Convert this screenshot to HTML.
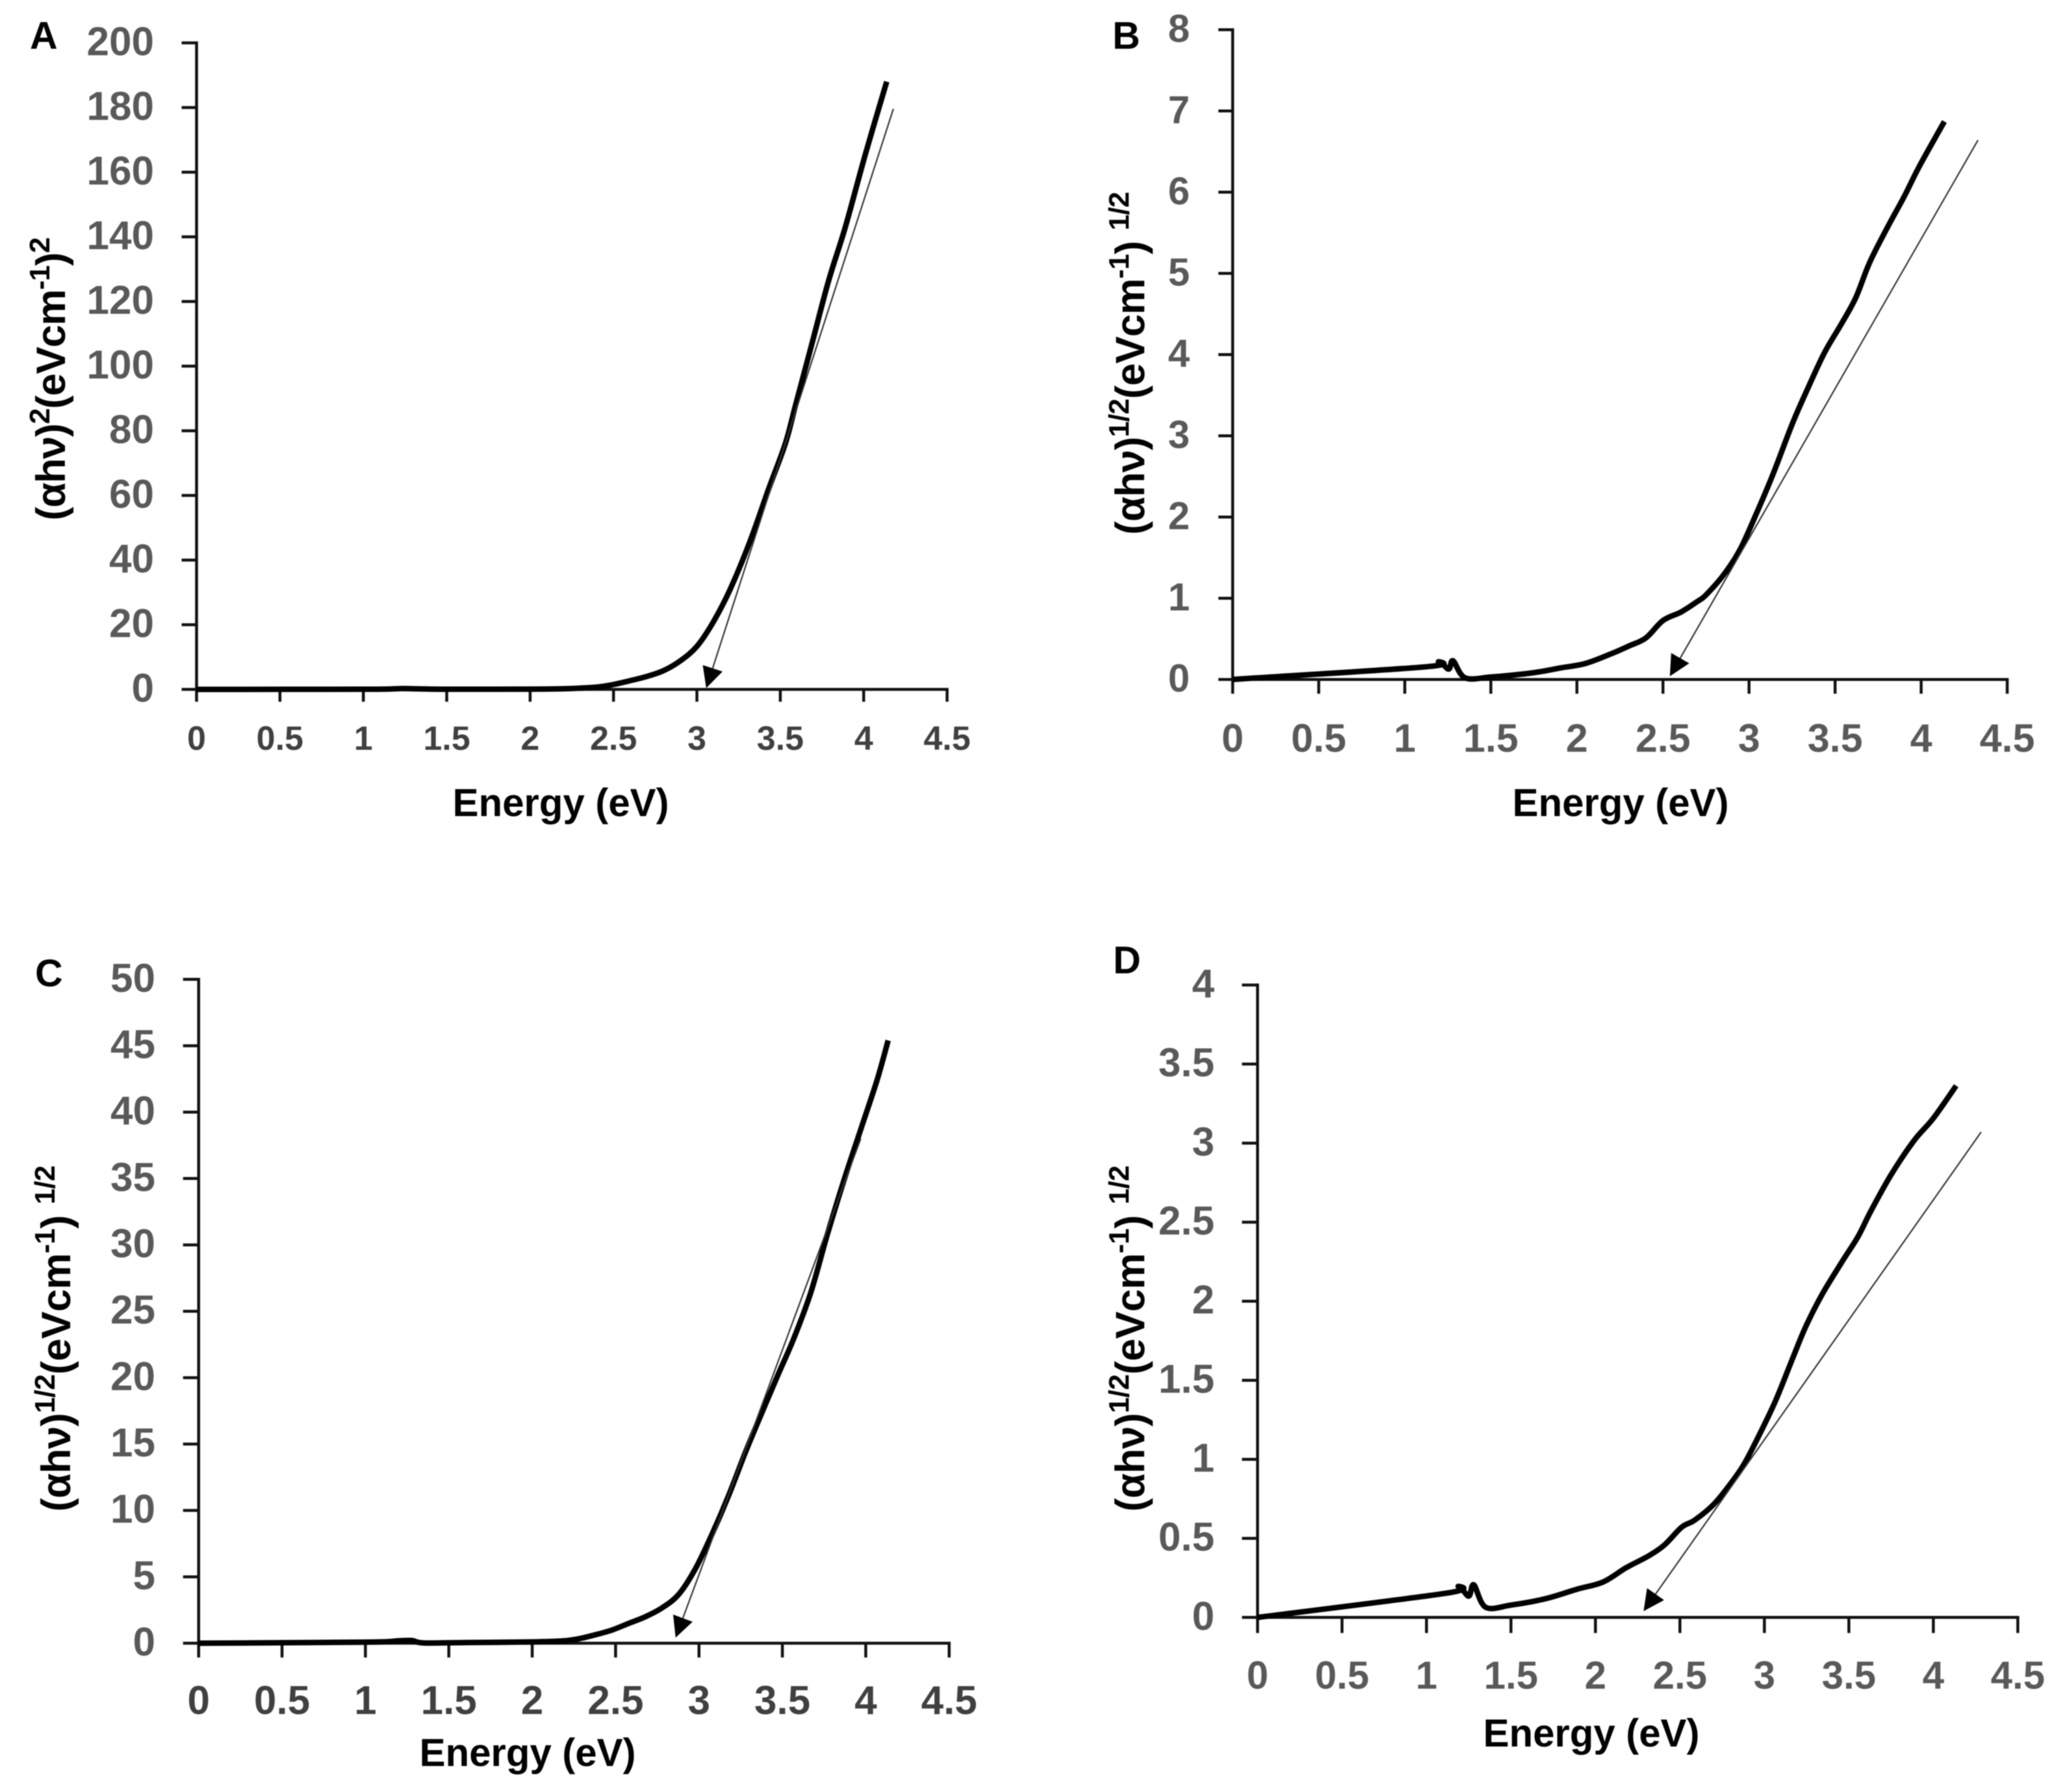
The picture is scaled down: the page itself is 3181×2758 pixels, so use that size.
<!DOCTYPE html>
<html lang="en">
<head>
<meta charset="utf-8">
<title>Tauc plots A-D</title>
<style>
html,body{margin:0;padding:0;background:#fff;width:3181px;height:2758px;overflow:hidden}
svg{display:block;filter:blur(0.8px)}
text{font-family:"Liberation Sans",sans-serif;font-weight:700}
.letter{font-size:59px;fill:#000}
.title{font-size:60px;fill:#000;text-anchor:middle}
.ytitle{font-size:63px;fill:#000;text-anchor:middle}
</style>
</head>
<body>
<svg id="figure" width="3181" height="2758" viewBox="0 0 3181 2758" xmlns="http://www.w3.org/2000/svg">
  <g id="panel-a">
    <text class="letter" x="46" y="75">A</text>
    <text class="title" x="863" y="1256" textLength="333">Energy (eV)</text>
    <text class="ytitle" transform="translate(100,583) rotate(-90)" textLength="436">(αhν)<tspan font-size="44" dy="-24">2</tspan><tspan dy="24">(eVcm</tspan><tspan font-size="44" dy="-24">-1</tspan><tspan dy="24">)</tspan><tspan font-size="44" dy="-24">2</tspan></text>
  </g>
  <g id="panel-b">
    <text class="letter" x="1712" y="75">B</text>
    <text class="title" x="2494" y="1256" textLength="333">Energy (eV)</text>
    <text class="ytitle" transform="translate(1761,559) rotate(-90)" textLength="528">(αhν)<tspan font-size="44" dy="-24">1/2</tspan><tspan dy="24">(eVcm</tspan><tspan font-size="44" dy="-24">-1</tspan><tspan dy="24">) </tspan><tspan font-size="44" dy="-24">1/2</tspan></text>
  </g>
  <g id="panel-c">
    <text class="letter" x="54" y="1518">C</text>
    <text class="title" x="812" y="2718" textLength="333">Energy (eV)</text>
    <text class="ytitle" transform="translate(108,2060) rotate(-90)" textLength="533">(αhν)<tspan font-size="44" dy="-24">1/2</tspan><tspan dy="24">(eVcm</tspan><tspan font-size="44" dy="-24">-1</tspan><tspan dy="24">) </tspan><tspan font-size="44" dy="-24">1/2</tspan></text>
  </g>
  <g id="panel-d">
    <text class="letter" x="1713" y="1498">D</text>
    <text class="title" x="2449" y="2688" textLength="333">Energy (eV)</text>
    <text class="ytitle" transform="translate(1761,2060) rotate(-90)" textLength="533">(αhν)<tspan font-size="44" dy="-24">1/2</tspan><tspan dy="24">(eVcm</tspan><tspan font-size="44" dy="-24">-1</tspan><tspan dy="24">) </tspan><tspan font-size="44" dy="-24">1/2</tspan></text>
  </g>
</svg>
<script>
// Shared x axis
const xTickValues = [0, 0.5, 1, 1.5, 2, 2.5, 3, 3.5, 4, 4.5];
const xTickLabels = ['0', '0.5', '1', '1.5', '2', '2.5', '3', '3.5', '4', '4.5'];

// Panel A
const aYTickValues = [0, 20, 40, 60, 80, 100, 120, 140, 160, 180, 200];
const aYTickLabels = ['0', '20', '40', '60', '80', '100', '120', '140', '160', '180', '200'];
const aEnergy = [0, 1, 1.2, 1.25, 1.5, 2, 2.2, 2.4, 2.5, 2.6, 2.7, 2.8, 2.9, 3, 3.1, 3.2, 3.32, 3.43, 3.53, 3.59, 3.69, 3.79, 3.89, 4.01, 4.138];
const aValues = [0, 0.05, 0.2, 0.25, 0.05, 0.08, 0.2, 0.7, 1.5, 2.7, 4, 5.8, 8.8, 13.3, 21, 31, 46, 62, 76, 87.6, 107, 126.5, 143, 165.5, 188];
const aTangentEnergy = [4.178, 3.056];
const aTangentValues = [179.6, 0.4];

// Panel B
const bYTickValues = [0, 1, 2, 3, 4, 5, 6, 7, 8];
const bYTickLabels = ['0', '1', '2', '3', '4', '5', '6', '7', '8'];
const bEnergy = [0, 1.12, 1.198, 1.255, 1.28, 1.35, 1.5, 1.7, 1.8, 1.9, 2.05, 2.2, 2.3, 2.4, 2.5, 2.605, 2.7, 2.75, 2.853, 2.948, 3.04, 3.138, 3.252, 3.347, 3.44, 3.54, 3.62, 3.7, 3.8, 3.9, 3.99, 4.135];
const bValues = [0, 0.155, 0.218, 0.127, 0.23, 0.02, 0.03, 0.07, 0.1, 0.14, 0.197, 0.317, 0.41, 0.51, 0.725, 0.83, 0.96, 1.04, 1.29, 1.6, 2.03, 2.52, 3.15, 3.61, 4.03, 4.39, 4.7, 5.13, 5.55, 5.94, 6.32, 6.87];
const bTangentEnergy = [4.33, 2.54];
const bTangentValues = [6.64, 0.04];

// Panel C
const cYTickValues = [0, 5, 10, 15, 20, 25, 30, 35, 40, 45, 50];
const cYTickLabels = ['0', '5', '10', '15', '20', '25', '30', '35', '40', '45', '50'];
const cEnergy = [0, 1, 1.2, 1.28, 1.35, 1.6, 2, 2.18, 2.28, 2.38, 2.48, 2.58, 2.68, 2.78, 2.88, 2.978, 3.078, 3.177, 3.276, 3.375, 3.475, 3.57, 3.67, 3.77, 3.87, 3.97, 4.07, 4.134];
const cValues = [0, 0.08, 0.18, 0.2, 0.02, 0.05, 0.1, 0.17, 0.34, 0.64, 1, 1.5, 2, 2.67, 3.7, 5.6, 8.2, 11.1, 14.3, 17.3, 20.25, 23, 26.4, 30.8, 34.9, 38.7, 42.5, 45.4];
const cTangentEnergy = [3.97, 2.86];
const cTangentValues = [38, 0.42];

// Panel D
const dYTickValues = [0, 0.5, 1, 1.5, 2, 2.5, 3, 3.5, 4];
const dYTickLabels = ['0', '0.5', '1', '1.5', '2', '2.5', '3', '3.5', '4'];
const dEnergy = [0, 1.115, 1.19, 1.25, 1.28, 1.35, 1.5, 1.7, 1.89, 2.045, 2.18, 2.316, 2.41, 2.51, 2.587, 2.7, 2.8, 2.88, 2.975, 3.07, 3.17, 3.245, 3.34, 3.46, 3.555, 3.63, 3.75, 3.885, 4, 4.135];
const dValues = [0, 0.153, 0.196, 0.135, 0.206, 0.064, 0.078, 0.117, 0.178, 0.224, 0.313, 0.39, 0.46, 0.57, 0.615, 0.715, 0.846, 0.97, 1.166, 1.38, 1.646, 1.84, 2.04, 2.25, 2.41, 2.57, 2.8, 3.015, 3.157, 3.363];
const dTangentEnergy = [4.283, 2.285];
const dTangentValues = [3.07, 0.04];

const SVG_NS = 'http://www.w3.org/2000/svg';

function shape(kind, parent, attrs) {
  const el = document.createElementNS(SVG_NS, kind);
  for (const key in attrs) el.setAttribute(key, attrs[key]);
  parent.appendChild(el);
  return el;
}

function smoothPath(pts) {
  let d = 'M' + pts[0][0].toFixed(1) + ' ' + pts[0][1].toFixed(1);
  for (let i = 0; i < pts.length - 1; i++) {
    const a = pts[Math.max(i - 1, 0)];
    const b = pts[i];
    const c = pts[i + 1];
    const e = pts[Math.min(i + 2, pts.length - 1)];
    const c1x = b[0] + (c[0] - a[0]) / 6;
    const c1y = b[1] + (c[1] - a[1]) / 6;
    const c2x = c[0] - (e[0] - b[0]) / 6;
    const c2y = c[1] - (e[1] - b[1]) / 6;
    d += 'C' + c1x.toFixed(1) + ' ' + c1y.toFixed(1) + ' ' + c2x.toFixed(1) + ' ' + c2y.toFixed(1) + ' ' + c[0].toFixed(1) + ' ' + c[1].toFixed(1);
  }
  return d;
}

function drawPanel(p) {
  const group = document.getElementById(p.id);
  const xAt = v => p.x0 + (v / p.xMax) * (p.x1 - p.x0);
  const yAt = v => p.y0 - (v / p.yMax) * (p.y0 - p.y1);

  const yAxisLine = shape('line', group, {x1: p.x0, y1: p.y0, x2: p.x0, y2: p.y1, stroke: '#111', 'stroke-width': 4.5, 'stroke-linecap': 'square'});
  
  

  const xAxisLine = shape('line', group, {x1: p.x0, y1: p.y0, x2: p.x1, y2: p.y0, stroke: '#111', 'stroke-width': 4.5, 'stroke-linecap': 'square'});
  
  

  p.yTicks.forEach((value, i) => {
    const y = yAt(value);
    const tick = shape('line', group, {x1: p.x0 - p.yTickLen, y1: y, x2: p.x0, y2: y, stroke: '#111', 'stroke-width': 4.5});
    
    
    const label = shape('text', group, {x: p.yLabelRight, y: y + 19, 'text-anchor': 'end', 'font-size': p.yFont, fill: '#595959'});
    
    
    label.textContent = p.yLabels[i];
  });

  xTickValues.forEach((value, i) => {
    const x = xAt(value);
    const tick = shape('line', group, {x1: x, y1: p.y0, x2: x, y2: p.y0 + p.xTickLen, stroke: '#111', 'stroke-width': 4.5});
    
    
    const label = shape('text', group, {x: x, y: p.xLabelBase, 'text-anchor': 'middle', 'font-size': p.xFont, fill: p.xColor});
    
    
    label.textContent = xTickLabels[i];
  });

  const pts = p.energy.map((e, i) => [xAt(e), yAt(p.values[i])]);
  const curve = shape('path', group, {d: smoothPath(pts), fill: 'none', stroke: '#000', 'stroke-width': 8.5, 'stroke-linejoin': 'round', 'stroke-linecap': 'butt'});
  
  

  const sx = xAt(p.tangentEnergy[0]);
  const sy = yAt(p.tangentValues[0]);
  const tx = xAt(p.tangentEnergy[1]);
  const ty = yAt(p.tangentValues[1]);
  const len = Math.hypot(tx - sx, ty - sy);
  const ux = (tx - sx) / len;
  const uy = (ty - sy) / len;
  const bx = tx - ux * 32;
  const by = ty - uy * 32;
  const tangent = shape('line', group, {x1: sx, y1: sy, x2: bx, y2: by, stroke: '#333', 'stroke-width': 2.2});
  
  

  const head = [tx + ',' + ty, (bx - uy * 16) + ',' + (by + ux * 16), (bx + uy * 16) + ',' + (by - ux * 16)].join(' ');
  const arrow = shape('polygon', group, {points: head, fill: '#000'});
  
  
}

drawPanel({id: 'panel-a', x0: 302.5, x1: 1457.5, y0: 1061, y1: 66, xMax: 4.5, yMax: 200, yTicks: aYTickValues, yLabels: aYTickLabels, energy: aEnergy, values: aValues, tangentEnergy: aTangentEnergy, tangentValues: aTangentValues, yTickLen: 23, xTickLen: 19, yLabelRight: 237, yFont: 62, xFont: 52, xColor: '#404040', xLabelBase: 1154});
drawPanel({id: 'panel-b', x0: 1897, x1: 3089, y0: 1045.7, y1: 45.7, xMax: 4.5, yMax: 8, yTicks: bYTickValues, yLabels: bYTickLabels, energy: bEnergy, values: bValues, tangentEnergy: bTangentEnergy, tangentValues: bTangentValues, yTickLen: 22, xTickLen: 22, yLabelRight: 1831, yFont: 60, xFont: 61, xColor: '#595959', xLabelBase: 1157});
drawPanel({id: 'panel-c', x0: 305.7, x1: 1460.7, y0: 2529, y1: 1507.3, xMax: 4.5, yMax: 50, yTicks: cYTickValues, yLabels: cYTickLabels, energy: cEnergy, values: cValues, tangentEnergy: cTangentEnergy, tangentValues: cTangentValues, yTickLen: 24, xTickLen: 22, yLabelRight: 239, yFont: 62, xFont: 62, xColor: '#404040', xLabelBase: 2638});
drawPanel({id: 'panel-d', x0: 1935.3, x1: 3105.3, y0: 2489.3, y1: 1516, xMax: 4.5, yMax: 4, yTicks: dYTickValues, yLabels: dYTickLabels, energy: dEnergy, values: dValues, tangentEnergy: dTangentEnergy, tangentValues: dTangentValues, yTickLen: 24, xTickLen: 24, yLabelRight: 1869, yFont: 62, xFont: 60, xColor: '#595959', xLabelBase: 2599});
</script>
</body>
</html>
